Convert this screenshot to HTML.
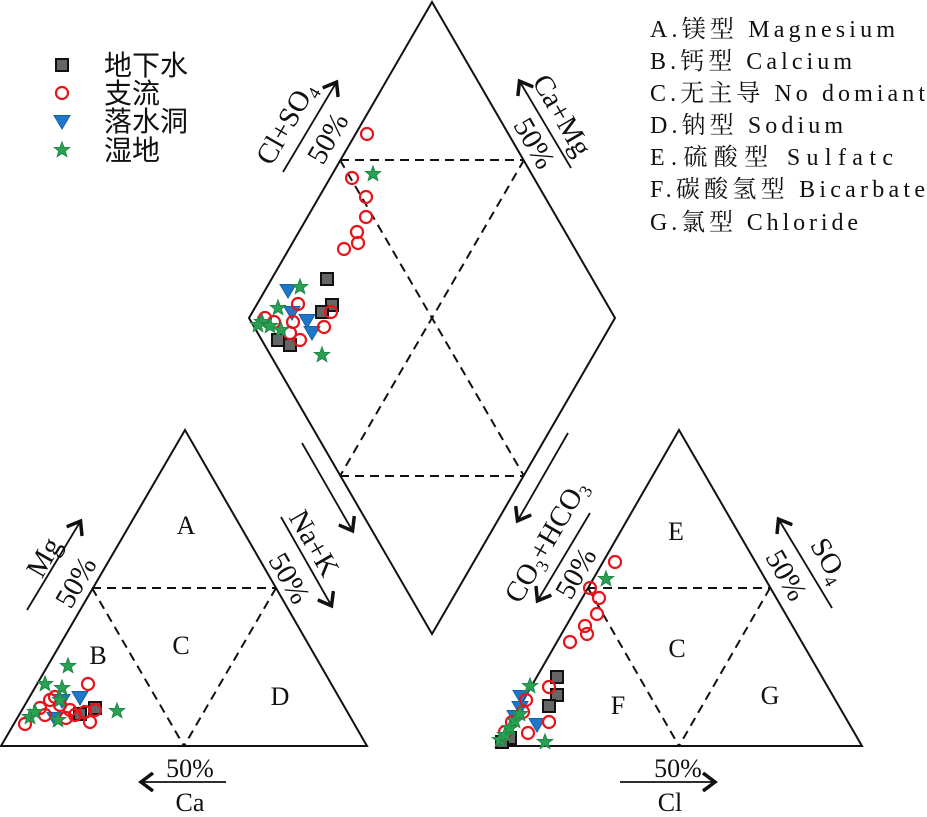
<!DOCTYPE html>
<html><head><meta charset="utf-8"><style>
html,body{margin:0;padding:0;background:#fff;width:927px;height:817px;overflow:hidden}
svg{display:block}
.s{font-family:"Liberation Serif","Noto Serif CJK SC",serif;fill:#111}
.c{font-family:"Liberation Sans","Noto Sans CJK SC",sans-serif;fill:#111}
</style></head><body>
<svg width="927" height="817" viewBox="0 0 927 817" xmlns="http://www.w3.org/2000/svg">
<defs>
<g id="ci"><circle r="6" fill="none" stroke="#e8141b" stroke-width="2.2"/></g>
<g id="sq"><rect x="-6" y="-6" width="12" height="12" fill="#666" stroke="#111" stroke-width="2"/></g>
<g id="tr"><polygon points="-8,-5.5 8,-5.5 0,8" fill="#1e78c8" stroke="#1560a8" stroke-width="1"/></g>
<g id="st"><polygon points="0,-8 2,-2.6 7.6,-2.5 3.3,1 4.8,6.5 0,3.4 -4.8,6.5 -3.3,1 -7.6,-2.5 -2,-2.6" fill="#2aa055" stroke="#1f8a45" stroke-width="1"/></g>
<marker id="ah" markerWidth="16" markerHeight="20" refX="12" refY="10" orient="auto" markerUnits="userSpaceOnUse"><path d="M1,1 L13,10 L1,19" fill="none" stroke="#111" stroke-width="3.5"/></marker>
</defs>

<g fill="none" stroke="#111" stroke-width="2">
<polygon points="432,2 615,318 432,634 249,318"/>
<polygon points="185,430 367,746 1,746"/>
<polygon points="679,430 862,746 497,746"/>
</g>
<g fill="none" stroke="#111" stroke-width="2" stroke-dasharray="9,6">
<line x1="340" y1="160" x2="524" y2="160"/>
<line x1="340" y1="476" x2="524" y2="476"/>
<line x1="340" y1="160" x2="524" y2="476"/>
<line x1="524" y1="160" x2="340" y2="476"/>
<line x1="92" y1="588" x2="276" y2="588"/>
<line x1="92" y1="588" x2="184" y2="746"/>
<line x1="276" y1="588" x2="184" y2="746"/>
<line x1="588" y1="588" x2="770" y2="588"/>
<line x1="588" y1="588" x2="679" y2="746"/>
<line x1="770" y1="588" x2="679" y2="746"/>
</g>

<g stroke="#111" stroke-width="1.8" fill="none" marker-end="url(#ah)">
<line x1="283" y1="172" x2="336" y2="83"/>
<line x1="571" y1="168" x2="520" y2="82"/>
<line x1="302" y1="443" x2="352" y2="530"/>
<line x1="281" y1="517" x2="331" y2="605"/>
<line x1="568" y1="433" x2="518" y2="520"/>
<line x1="590" y1="513" x2="538" y2="600"/>
<line x1="27" y1="610" x2="80" y2="522"/>
<line x1="832" y1="608" x2="779" y2="520"/>
<line x1="226" y1="782" x2="142" y2="782"/>
<line x1="620" y1="782" x2="714" y2="782"/>
</g>

<g class="s" font-size="29" text-anchor="middle">
<text transform="translate(294,128) rotate(-60)">Cl+SO<tspan font-size="18" dy="6">4</tspan></text>
<text transform="translate(336,143) rotate(-60)">50%</text>
<text transform="translate(554,120) rotate(60)">Ca+Mg</text>
<text transform="translate(526,148) rotate(60)">50%</text>
<text transform="translate(306,548) rotate(60)">Na+K</text>
<text transform="translate(281,583) rotate(60)">50%</text>
<text transform="translate(554,546) rotate(-60)">CO<tspan font-size="18" dy="6">3</tspan><tspan dy="-6">+HCO</tspan><tspan font-size="18" dy="6">3</tspan></text>
<text transform="translate(584,578) rotate(-60)">50%</text>
<text transform="translate(52,562) rotate(-60)">Mg</text>
<text transform="translate(84,587) rotate(-60)">50%</text>
<text transform="translate(821,565) rotate(60)">SO<tspan font-size="18" dy="6">4</tspan></text>
<text transform="translate(778,580) rotate(60)">50%</text>
</g>
<g class="s" font-size="26" text-anchor="middle">
<text x="190" y="777">50%</text>
<text x="190" y="811">Ca</text>
<text x="678" y="777">50%</text>
<text x="670" y="811">Cl</text>
</g>

<g class="s" font-size="26" text-anchor="middle">
<text x="186" y="534">A</text><text x="98" y="664">B</text><text x="181" y="654">C</text><text x="280" y="705">D</text>
<text x="676" y="540">E</text><text x="677" y="657">C</text><text x="618" y="714">F</text><text x="770" y="704">G</text>
</g>

<use href="#sq" x="62" y="65"/><use href="#ci" x="62" y="93"/><use href="#tr" x="62" y="121"/><use href="#st" x="62" y="150"/>
<g class="c" font-size="28">
<text x="104" y="75">地下水</text><text x="104" y="103">支流</text><text x="104" y="131">落水洞</text><text x="104" y="160">湿地</text>
</g>

<g class="s" font-size="24">
<text x="650" y="37" textLength="245" lengthAdjust="spacing">A.镁型 Magnesium</text>
<text x="650" y="69" textLength="202" lengthAdjust="spacing">B.钙型 Calcium</text>
<text x="650" y="101" textLength="275" lengthAdjust="spacing">C.无主导 No domiant</text>
<text x="650" y="133" textLength="193" lengthAdjust="spacing">D.钠型 Sodium</text>
<text x="650" y="165" textLength="243" lengthAdjust="spacing">E.硫酸型 Sulfatc</text>
<text x="650" y="197" textLength="275" lengthAdjust="spacing">F.碳酸氢型 Bicarbate</text>
<text x="650" y="230" textLength="208" lengthAdjust="spacing">G.氯型 Chloride</text>
</g>

<use href="#sq" x="327" y="279"/><use href="#sq" x="332" y="305"/><use href="#sq" x="322" y="312"/><use href="#sq" x="278" y="340"/><use href="#sq" x="290" y="345"/>
<use href="#tr" x="288" y="290"/><use href="#tr" x="292" y="312"/><use href="#tr" x="307" y="320"/><use href="#tr" x="312" y="332"/>
<use href="#ci" x="367" y="134"/><use href="#ci" x="352" y="178"/><use href="#ci" x="366" y="197"/><use href="#ci" x="366" y="217"/><use href="#ci" x="357" y="232"/><use href="#ci" x="358" y="243"/><use href="#ci" x="344" y="249"/><use href="#ci" x="298" y="304"/><use href="#ci" x="293" y="322"/><use href="#ci" x="331" y="312"/><use href="#ci" x="324" y="327"/><use href="#ci" x="300" y="340"/><use href="#ci" x="265" y="318"/><use href="#ci" x="274" y="322"/><use href="#ci" x="290" y="333"/>
<use href="#st" x="373" y="174"/><use href="#st" x="300" y="287"/><use href="#st" x="278" y="308"/><use href="#st" x="262" y="322"/><use href="#st" x="258" y="325"/><use href="#st" x="281" y="330"/><use href="#st" x="270" y="326"/><use href="#st" x="322" y="355"/>

<use href="#sq" x="95" y="708"/><use href="#sq" x="80" y="714"/>
<use href="#tr" x="80" y="697"/><use href="#tr" x="55" y="718"/><use href="#tr" x="62" y="700"/>
<use href="#ci" x="88" y="684"/><use href="#ci" x="95" y="710"/><use href="#ci" x="90" y="722"/><use href="#ci" x="25" y="724"/><use href="#ci" x="40" y="708"/><use href="#ci" x="50" y="700"/><use href="#ci" x="60" y="705"/><use href="#ci" x="75" y="715"/><use href="#ci" x="85" y="712"/><use href="#ci" x="70" y="710"/><use href="#ci" x="45" y="715"/><use href="#ci" x="55" y="697"/><use href="#ci" x="66" y="718"/>
<use href="#st" x="68" y="666"/><use href="#st" x="45" y="684"/><use href="#st" x="62" y="688"/><use href="#st" x="117" y="711"/><use href="#st" x="30" y="717"/><use href="#st" x="58" y="720"/><use href="#st" x="60" y="700"/><use href="#st" x="35" y="712"/>

<use href="#sq" x="557" y="677"/><use href="#sq" x="557" y="695"/><use href="#sq" x="549" y="706"/><use href="#sq" x="510" y="738"/><use href="#sq" x="502" y="742"/>
<use href="#tr" x="521" y="696"/><use href="#tr" x="520" y="707"/><use href="#tr" x="537" y="724"/><use href="#tr" x="515" y="716"/>
<use href="#ci" x="615" y="562"/><use href="#ci" x="590" y="588"/><use href="#ci" x="599" y="598"/><use href="#ci" x="597" y="614"/><use href="#ci" x="585" y="626"/><use href="#ci" x="587" y="634"/><use href="#ci" x="570" y="642"/><use href="#ci" x="549" y="687"/><use href="#ci" x="526" y="700"/><use href="#ci" x="523" y="712"/><use href="#ci" x="549" y="722"/><use href="#ci" x="528" y="733"/><use href="#ci" x="512" y="722"/><use href="#ci" x="505" y="732"/>
<use href="#st" x="606" y="579"/><use href="#st" x="530" y="686"/><use href="#st" x="545" y="742"/><use href="#st" x="500" y="740"/><use href="#st" x="505" y="735"/><use href="#st" x="510" y="728"/><use href="#st" x="515" y="721"/><use href="#st" x="520" y="714"/>
</svg>
</body></html>
